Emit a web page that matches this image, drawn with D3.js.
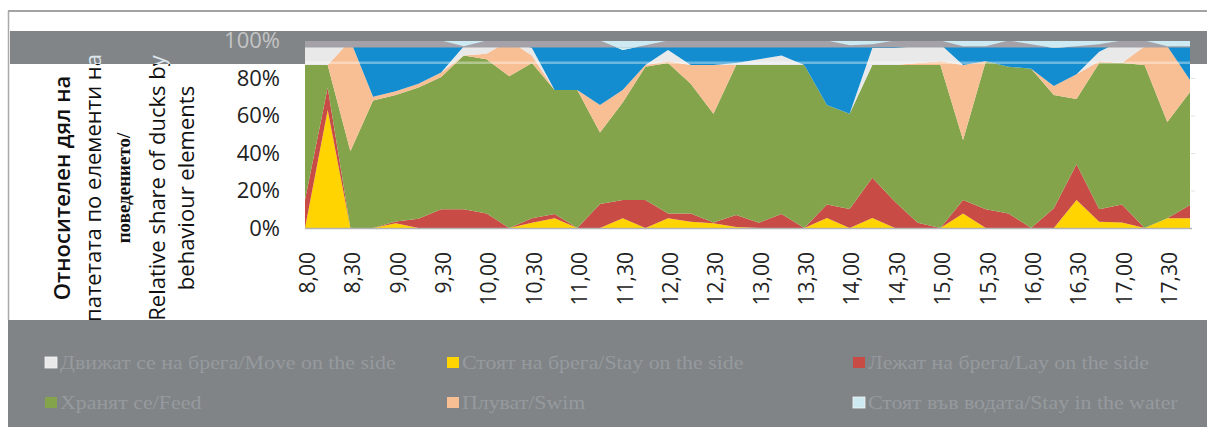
<!DOCTYPE html>
<html>
<head>
<meta charset="utf-8">
<script src="https://cdnjs.cloudflare.com/ajax/libs/d3/7.8.5/d3.min.js"></script>
<style>
  body { margin: 0; background: #fff; }
  #chart svg { display: block; }
</style>
</head>
<body>
<div id="chart"></div>
<script>
// categories: every 15 minutes, 8,00 .. 17,45
var times = ["8,00", "8,15", "8,30", "8,45", "9,00", "9,15", "9,30", "9,45",
  "10,00", "10,15", "10,30", "10,45", "11,00", "11,15", "11,30", "11,45",
  "12,00", "12,15", "12,30", "12,45", "13,00", "13,15", "13,30", "13,45",
  "14,00", "14,15", "14,30", "14,45", "15,00", "15,15", "15,30", "15,45",
  "16,00", "16,15", "16,30", "16,45", "17,00", "17,15", "17,30", "17,45"];

// share of ducks (%) per behaviour
var stay  = [0, 63, 0, 0, 2.5, 0, 0, 0, 0, 0, 2.8, 5.2, 0, 0, 5.2, 0, 5.2, 3.4, 2.5, 0.5,
  0, 0, 0, 5.3, 0, 5.3, 0, 0, 0, 7.8, 0, 0, 0, 0, 15, 3.4, 3, 0, 5.2, 5.2];
var lay   = [15, 12, 0, 0, 1, 5, 10, 10, 7.8, 0, 2.4, 2.3, 0, 12.8, 9.8, 15, 2.6, 4.4, 0.5, 6.5,
  2.8, 7.5, 0, 7.3, 10.1, 21.5, 14, 2.8, 0, 7.2, 10, 7.8, 0, 10.5, 19, 6.6, 9.6, 0, 0, 7.1];
var feed  = [72, 12, 41, 68, 67.5, 70, 70.5, 82, 82.2, 81, 82.8, 66.1, 73.6, 38.2, 52, 71, 80.2, 69.2, 58, 80,
  84.2, 79.5, 87, 53, 50.9, 60.2, 73, 84.2, 87, 32, 79, 78.2, 85, 60.5, 34.8, 78, 75.4, 87, 51.3, 60.3];
var swim  = [0, 0, 59, 2, 2, 2, 2.5, 0, 3, 19, 4, 0, 0, 14.6, 6.6, 1, 1, 10, 26, 0,
  0, 0, 0, 0, 0, 0, 0, 1, 2, 40, 0, 0, 0, 4.7, 13.2, 1, 0, 10, 40.5, 6.4];
var move  = [13, 13, 0, 0, 0, 0, 0, 5, 7, 0, 4, 0, 0, 0, 0, 0, 6, 0, 0, 1,
  3, 5, 0, 0, 0, 9, 9, 9, 9, 0, 0, 0, 0, 0, 0, 5, 12, 0, 0, 0];
var other = [0, 0, 0, 30, 27, 23, 17, 0, 0, 0, 4, 26.4, 26.4, 34.4, 21.4, 10.5, 5, 13, 13, 12,
  10, 8, 13, 34.4, 36.5, 2, 4, 3, 2, 10, 8, 14, 13, 20.3, 15, 4, 0, 3, 0, 18];
var water = [0, 0, 0, 0, 0, 0, 0, 3, 0, 0, 0, 0, 0, 0, 5, 2.5, 0, 0, 0, 0,
  0, 0, 0, 0, 2.5, 2, 0, 0, 0, 3, 3, 0, 2, 4, 3, 2, 0, 0, 3, 3];

var keys = ["stay", "lay", "feed", "swim", "move", "other", "water"];
var colors = {
  stay: "#ffd400", lay: "#c84b45", feed: "#84a44c", swim: "#f8be94",
  move: "#e9e9e9", other: "#138dcf", water: "#cde9f1"
};

var legendLabels = [
  ["move", "Движат се на брега/Move on the side"],
  ["stay", "Стоят на брега/Stay on the side"],
  ["lay", "Лежат на брега/Lay on the side"],
  ["feed", "Хранят се/Feed"],
  ["swim", "Плуват/Swim"],
  ["water", "Стоят във водата/Stay in the water"]
];

var titleLines = ["Относителен дял на", "патетата по елементи на", "поведението/",
  "Relative share of ducks by", "behaviour elements"];

var yTicks = [0, 0.2, 0.4, 0.6, 0.8, 1];

// build table for the stack
var table = times.map(function(t, i) {
  return { time: t, stay: stay[i], lay: lay[i], feed: feed[i], swim: swim[i],
    move: move[i], other: other[i], water: water[i] };
});

var svgWidth = 1207;
var svgHeight = 427;
var plot = { left: 305, right: 1190, top: 40.5, bottom: 228 };

var svg = d3.select("#chart")
  .append("svg")
  .attr("width", svgWidth)
  .attr("height", svgHeight);

var defs = svg.append("defs");
defs.append("clipPath").attr("id", "bandClip")
  .append("rect").attr("x", 305).attr("y", 41).attr("width", 885).attr("height", 6.5);
defs.append("clipPath").attr("id", "bandLeft")
  .append("rect").attr("x", 10).attr("y", 31).attr("width", 295).attr("height", 33);

// frame lines
svg.append("line").attr("x1", 8).attr("x2", svgWidth).attr("y1", 11).attr("y2", 11)
  .attr("stroke", "#a3a3a3").attr("stroke-width", 2);
svg.append("line").attr("x1", 8.5).attr("x2", 8.5).attr("y1", 11).attr("y2", 320)
  .attr("stroke", "#a9a9a9").attr("stroke-width", 1.5);

// scales
var x = d3.scalePoint().domain(times).range([plot.left, plot.right]);
var y = d3.scaleLinear().domain([0, 1]).range([plot.bottom, plot.top]);

var series = d3.stack().keys(keys).offset(d3.stackOffsetExpand)(table);

var area = d3.area()
  .x(d => x(d.data.time))
  .y0(d => y(d[0]))
  .y1(d => y(d[1]));

svg.append("g").selectAll("path")
  .data(series)
  .enter()
  .append("path")
  .attr("d", area)
  .attr("fill", d => colors[d.key]);

// bottom line of plot
svg.append("line").attr("x1", plot.left).attr("x2", plot.right + 2)
  .attr("y1", plot.bottom + 0.5).attr("y2", plot.bottom + 0.5)
  .attr("stroke", "#b3b3b3").attr("stroke-width", 1.5);

// faint marks at the right edge
var rightAxis = svg.append("g")
  .attr("transform", `translate(${plot.right + 1}, 0)`)
  .call(d3.axisRight(y).tickValues([0.2, 0.4, 0.6, 0.8]).tickSize(4).tickFormat(""));
rightAxis.select(".domain").remove();
rightAxis.selectAll("line").attr("stroke", "#e2e2e2");

// y axis
var yAxis = svg.append("g")
  .attr("transform", `translate(${plot.left}, 0)`)
  .call(d3.axisLeft(y).tickValues(yTicks).tickSize(0).tickPadding(25).tickFormat(d3.format(".0%")));
yAxis.select(".domain").remove();
yAxis.selectAll("text")
  .attr("font-family", "'Open Sans', sans-serif")
  .attr("font-size", "22px")
  .attr("fill", "#222");

// x axis
var xAxis = svg.append("g")
  .attr("transform", `translate(0, ${plot.bottom})`)
  .call(d3.axisBottom(x).tickValues(times.filter((t, i) => i % 2 === 0)).tickSize(0));
xAxis.select(".domain").remove();
xAxis.selectAll("text")
  .attr("transform", "rotate(-90)")
  .attr("x", -24)
  .attr("y", 2)
  .attr("dy", "0.35em")
  .attr("text-anchor", "end")
  .attr("font-family", "'Open Sans', sans-serif")
  .attr("font-size", "21px")
  .attr("fill", "#222");

// axis title, several lines
var titleX = [70, 101, 130, 165, 194];
function drawTitle(g, fill) {
  titleLines.forEach(function(line, i) {
    var serif = i === 2;
    g.append("text")
      .attr("transform", `translate(${titleX[i]}, 188) rotate(-90)`)
      .attr("text-anchor", "middle")
      .attr("font-family", serif ? "'Liberation Serif', serif" : "'Open Sans', sans-serif")
      .attr("font-weight", serif ? "bold" : (i === 0 ? 600 : "normal"))
      .attr("font-size", serif ? "19px" : "22px")
      .attr("fill", fill)
      .text(line);
  });
}
drawTitle(svg.append("g"), "#111");

// grey band across the top (scan artefact)
var band = svg.append("g");
band.append("rect").attr("x", 10).attr("y", 31).attr("width", svgWidth - 10).attr("height", 10)
  .attr("fill", "#818588");
band.append("rect").attr("x", 10).attr("y", 41).attr("width", plot.left - 10).attr("height", 23)
  .attr("fill", "#818588");
band.append("rect").attr("x", plot.right).attr("y", 41).attr("width", svgWidth - plot.right).attr("height", 23)
  .attr("fill", "#818588");
band.append("rect").attr("x", plot.left).attr("y", 41).attr("width", plot.right - plot.left).attr("height", 6.5)
  .attr("fill", "#a4a1a8");
band.append("g").attr("clip-path", "url(#bandClip)")
  .selectAll("path")
  .data(series.filter(s => s.key === "water"))
  .enter()
  .append("path")
  .attr("d", area)
  .attr("fill", colors.water);
band.append("rect").attr("x", plot.left).attr("y", 61.5).attr("width", plot.right - plot.left).attr("height", 2.5)
  .attr("fill", "#fff").attr("opacity", 0.38);

drawTitle(band.append("g").attr("clip-path", "url(#bandLeft)"), "#dde5ec");

band.append("text")
  .attr("x", 280).attr("y", plot.top)
  .attr("dy", "0.35em")
  .attr("text-anchor", "end")
  .attr("font-family", "'Open Sans', sans-serif")
  .attr("font-size", "22px")
  .attr("fill", "#c4c4c4")
  .text("100%");

// legend
svg.append("rect").attr("x", 8).attr("y", 320).attr("width", svgWidth - 8).attr("height", svgHeight - 320)
  .attr("fill", "#808487");

var colX = [45, 447, 853];
var rowY = [357, 397];
var legend = svg.append("g").selectAll("g")
  .data(legendLabels)
  .enter()
  .append("g")
  .attr("transform", (d, i) => `translate(${colX[i % 3]}, ${rowY[Math.floor(i / 3)]})`);

legend.append("rect")
  .attr("width", 12).attr("height", 11)
  .attr("fill", d => colors[d[0]])
  .attr("stroke", d => (d[0] === "move" || d[0] === "water") ? "#f4f4f4" : "none")
  .attr("stroke-width", 0.8);

// the scan is stretched sideways, so the legend text is widened a little
legend.append("text")
  .attr("transform", "translate(15, 11.5) scale(1.15, 1)")
  .attr("font-family", "'Liberation Serif', serif")
  .attr("font-size", "19px")
  .attr("fill", "#969a9e")
  .text(d => d[1]);
</script>
</body>
</html>
